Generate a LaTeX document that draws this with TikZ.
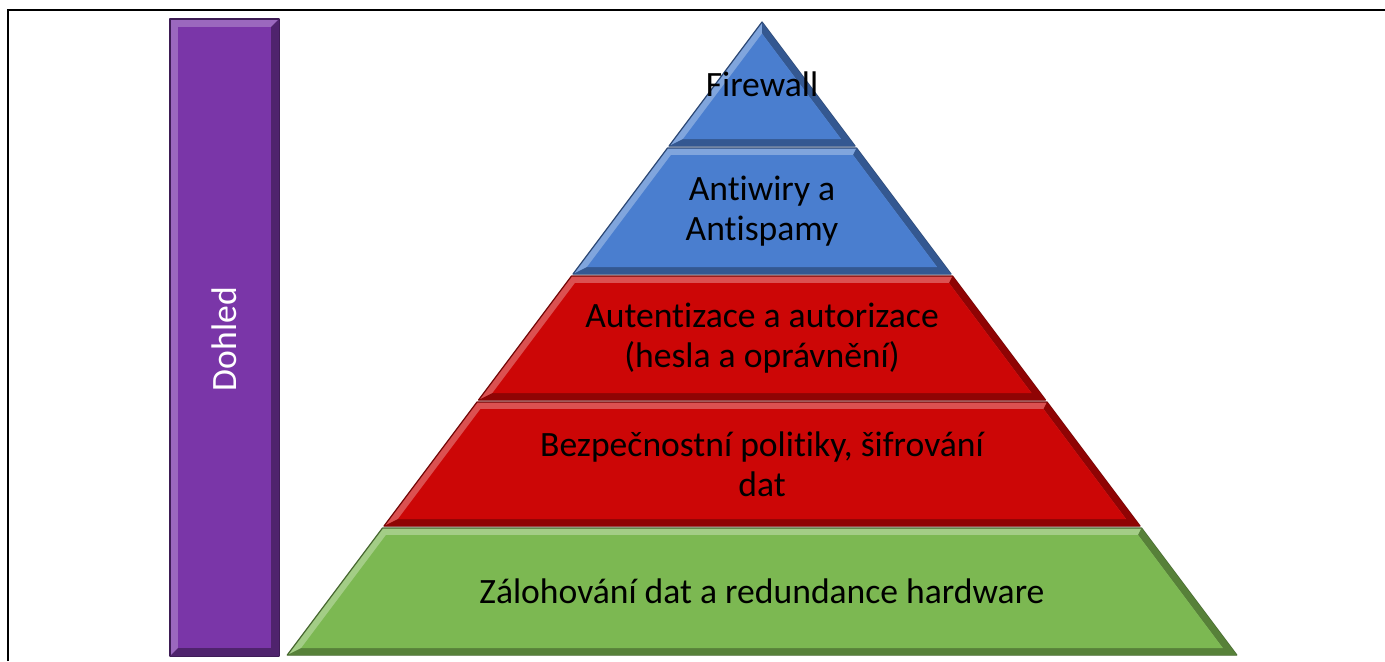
\documentclass[tikz,border=0pt]{standalone}
\usepackage{fontspec}
\setmainfont{Carlito}[Ligatures=NoCommon]
\definecolor{bleu}{RGB}{74,126,207}
\definecolor{rouge}{RGB}{204,6,6}
\definecolor{vert}{RGB}{124,184,82}
\definecolor{pourpre}{RGB}{122,54,168}
\begin{document}
\begin{tikzpicture}[x=0.5pt,y=-0.5pt]
% style des formes
\tikzstyle{etage}=[line width=0.6pt, line join=round]
% style des textes
\tikzstyle{texte}=[align=center, inner sep=0pt, font=\fontsize{17.8}{20}\selectfont]
% cadre
\useasboundingbox (0,0) rectangle (1385,661);
\draw[line width=1.2pt] (8,661) -- (8,10) -- (1385,10);
% barre de gauche
\filldraw[etage, fill=pourpre!75!white, draw=pourpre!50!black] (170,19) rectangle (279,656);
\fill[pourpre!65!black] (279,19) -- (279,656) -- (170,656) -- (178,648) -- (271,648) -- (271,27) -- cycle;
\fill[pourpre] (178,27) rectangle (271,648);
% étages de la pyramide
\foreach \t/\b/\c in {22/146/bleu, 148/274/bleu, 276/400/rouge, 402/526/rouge, 528/655/vert} {
  \pgfmathsetmacro\ti{max(\t+7,34)}
  \pgfmathsetmacro\bi{\b-7}
  \coordinate (hg) at ({762-0.75*(\t-22)},\t);
  \coordinate (hd) at ({762+0.75*(\t-22)},\t);
  \coordinate (bd) at ({762+0.75*(\b-22)},\b);
  \coordinate (bg) at ({762-0.75*(\b-22)},\b);
  \coordinate (ihg) at ({770.75-0.75*(\ti-22)},\ti);
  \coordinate (ihd) at ({753.25+0.75*(\ti-22)},\ti);
  \coordinate (ibd) at ({753.25+0.75*(\bi-22)},\bi);
  \coordinate (ibg) at ({770.75-0.75*(\bi-22)},\bi);
  \filldraw[etage, fill=\c!70!white, draw=\c!55!black] (hg) -- (hd) -- (bd) -- (bg) -- cycle;
  \fill[\c!70!black] (hd) -- (bd) -- (bg) -- (ibg) -- (ibd) -- (ihd) -- cycle;
  \fill[\c] (ihg) -- (ihd) -- (ibd) -- (ibg) -- cycle;
}
% textes
\node[texte] (fw) at (762,84) {Firewall};
\node[texte] (av) at (762,211) {Antiwiry a\\Antispamy};
\node[texte] (auth) at (762,338) {Autentizace a autorizace\\(hesla a oprávnění)};
\node[texte] (pol) at (762,464) {Bezpečnostní politiky, šifrování\\dat};
\node[texte] (bak) at (762,591) {Zálohování dat a redundance hardware};
\node[texte, text=white, rotate=90] (dohled) at (224,339) {Dohled};
\end{tikzpicture}
\end{document}
